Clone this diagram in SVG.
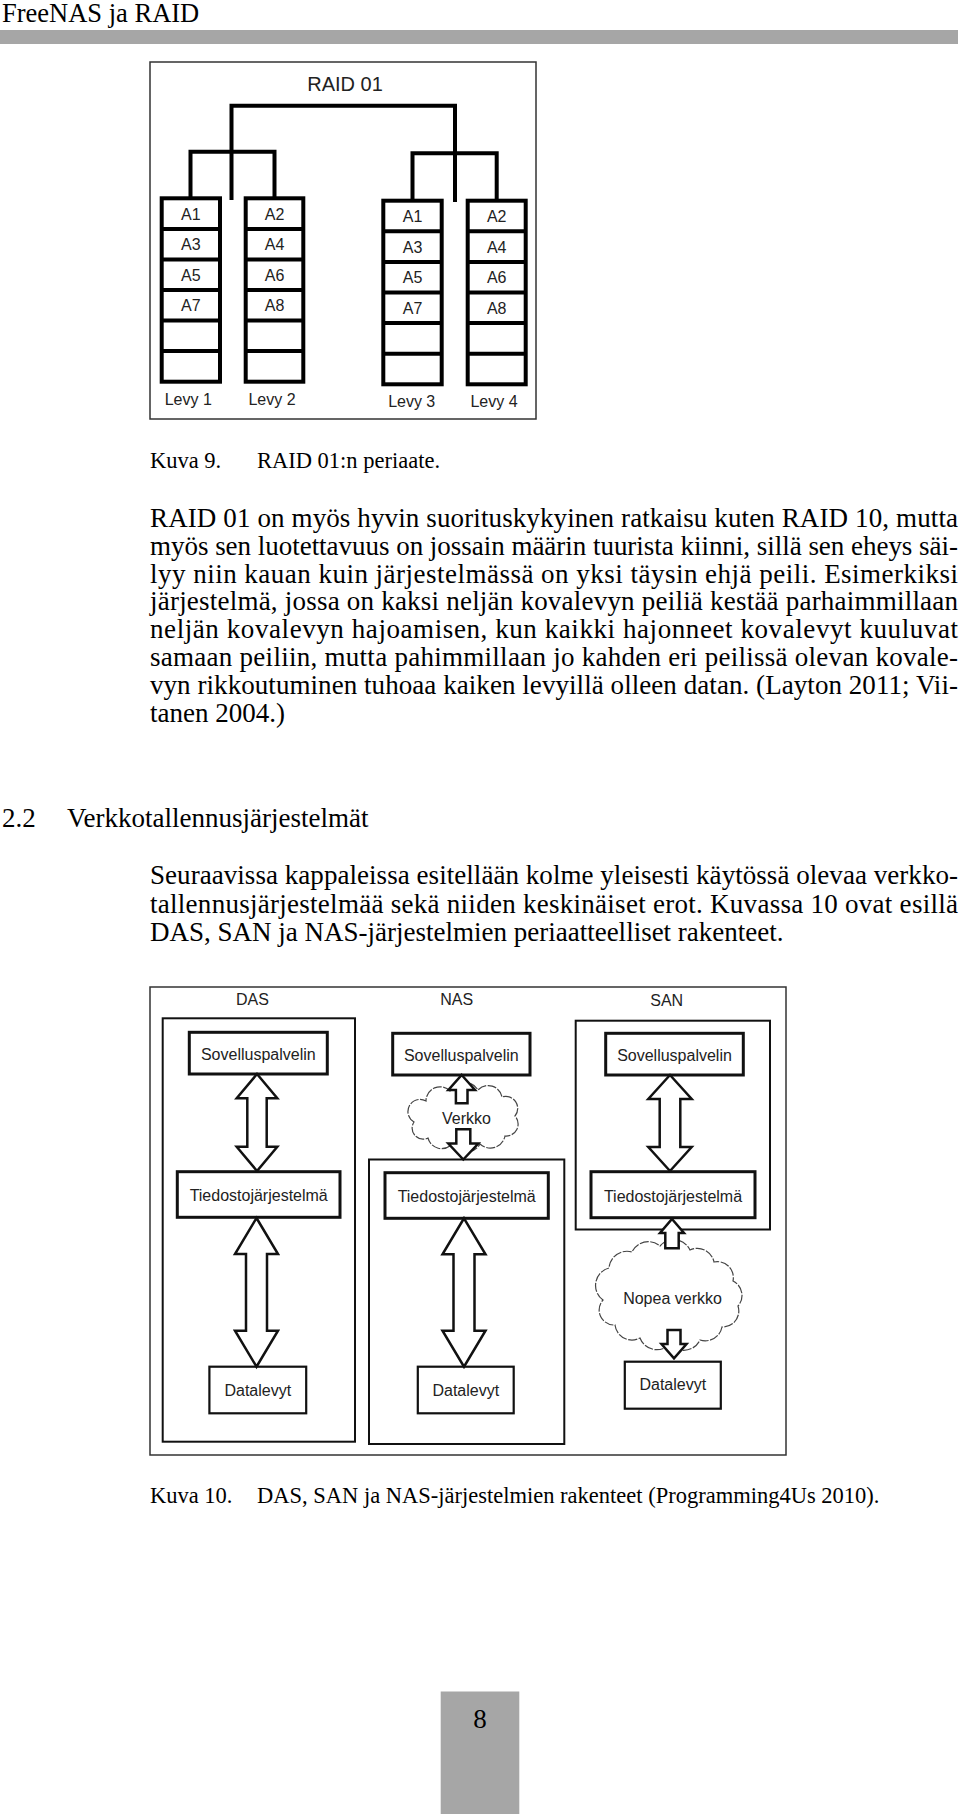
<svg xmlns="http://www.w3.org/2000/svg" width="960" height="1814" viewBox="0 0 960 1814">
<style>
.serif{font-family:"Liberation Serif","Times New Roman",serif;fill:#000}
.body{font-size:27px}
.cap{font-size:22.5px}
.sans{font-family:"Liberation Sans",Arial,sans-serif;fill:#222}
.lbl{font-size:16px}
.cell{font-size:16px}
.frame{fill:none;stroke:#333;stroke-width:1.5}
.inner{fill:none;stroke:#111;stroke-width:2}
.box{fill:#fff;stroke:#111;stroke-width:3}
.dbox{fill:#fff;stroke:#111;stroke-width:2.2}
.arrow{fill:#fff;stroke:#111;stroke-width:2.5;stroke-linejoin:miter}
.cloud{fill:#fff;stroke:#444;stroke-width:1.2;stroke-dasharray:9 1.5}
.tree{fill:none;stroke:#000;stroke-width:4;stroke-linecap:square}
.disk{fill:#fff;stroke:#000;stroke-width:4}
.div{stroke:#000;stroke-width:4}
</style>

<!-- page header -->
<g id="header">
<text class="serif" x="2" y="22" font-size="26.5">FreeNAS ja RAID</text>
<rect x="0" y="30" width="958" height="14" fill="#a6a6a6"/>
</g>

<!-- Figure 9: RAID 01 -->
<g id="raid01-figure">
<rect class="frame" x="150" y="62" width="386" height="357"/>
<text class="sans" x="345" y="91" font-size="20" text-anchor="middle">RAID 01</text>
</g>

<g id="connectors">
<polyline class="tree" points="231.5,198 231.5,105.7 455,105.7 455,200"/>
<polyline class="tree" points="190.5,198 190.5,151.7 274.5,151.7 274.5,198"/>
<polyline class="tree" points="412.5,200 412.5,153.3 496.7,153.3 496.7,200"/>
</g>

<g id="disk1">
<rect class="disk" x="161.7" y="198.3" width="58.3" height="183.4"/>
<line class="div" x1="161.7" x2="220" y1="228.9" y2="228.9"/>
<line class="div" x1="161.7" x2="220" y1="259.4" y2="259.4"/>
<line class="div" x1="161.7" x2="220" y1="290" y2="290"/>
<line class="div" x1="161.7" x2="220" y1="320.6" y2="320.6"/>
<line class="div" x1="161.7" x2="220" y1="351.1" y2="351.1"/>
<text class="sans cell" x="190.8" y="219.5" text-anchor="middle">A1</text>
<text class="sans cell" x="190.8" y="250" text-anchor="middle">A3</text>
<text class="sans cell" x="190.8" y="280.6" text-anchor="middle">A5</text>
<text class="sans cell" x="190.8" y="311.2" text-anchor="middle">A7</text>
<text class="sans lbl" x="188.3" y="405" text-anchor="middle">Levy 1</text>
</g>

<g id="disk2">
<rect class="disk" x="245.7" y="198.3" width="57.6" height="183.4"/>
<line class="div" x1="245.7" x2="303.3" y1="228.9" y2="228.9"/>
<line class="div" x1="245.7" x2="303.3" y1="259.4" y2="259.4"/>
<line class="div" x1="245.7" x2="303.3" y1="290" y2="290"/>
<line class="div" x1="245.7" x2="303.3" y1="320.6" y2="320.6"/>
<line class="div" x1="245.7" x2="303.3" y1="351.1" y2="351.1"/>
<text class="sans cell" x="274.5" y="219.5" text-anchor="middle">A2</text>
<text class="sans cell" x="274.5" y="250" text-anchor="middle">A4</text>
<text class="sans cell" x="274.5" y="280.6" text-anchor="middle">A6</text>
<text class="sans cell" x="274.5" y="311.2" text-anchor="middle">A8</text>
<text class="sans lbl" x="272" y="405" text-anchor="middle">Levy 2</text>
</g>

<g id="disk3">
<rect class="disk" x="383.3" y="200.7" width="58.4" height="183.6"/>
<line class="div" x1="383.3" x2="441.7" y1="231.3" y2="231.3"/>
<line class="div" x1="383.3" x2="441.7" y1="261.9" y2="261.9"/>
<line class="div" x1="383.3" x2="441.7" y1="292.5" y2="292.5"/>
<line class="div" x1="383.3" x2="441.7" y1="323.1" y2="323.1"/>
<line class="div" x1="383.3" x2="441.7" y1="353.7" y2="353.7"/>
<text class="sans cell" x="412.5" y="222" text-anchor="middle">A1</text>
<text class="sans cell" x="412.5" y="252.6" text-anchor="middle">A3</text>
<text class="sans cell" x="412.5" y="283.2" text-anchor="middle">A5</text>
<text class="sans cell" x="412.5" y="313.8" text-anchor="middle">A7</text>
<text class="sans lbl" x="411.7" y="406.7" text-anchor="middle">Levy 3</text>
</g>

<g id="disk4">
<rect class="disk" x="467.7" y="200.7" width="58" height="183.6"/>
<line class="div" x1="467.7" x2="525.7" y1="231.3" y2="231.3"/>
<line class="div" x1="467.7" x2="525.7" y1="261.9" y2="261.9"/>
<line class="div" x1="467.7" x2="525.7" y1="292.5" y2="292.5"/>
<line class="div" x1="467.7" x2="525.7" y1="323.1" y2="323.1"/>
<line class="div" x1="467.7" x2="525.7" y1="353.7" y2="353.7"/>
<text class="sans cell" x="496.7" y="222" text-anchor="middle">A2</text>
<text class="sans cell" x="496.7" y="252.6" text-anchor="middle">A4</text>
<text class="sans cell" x="496.7" y="283.2" text-anchor="middle">A6</text>
<text class="sans cell" x="496.7" y="313.8" text-anchor="middle">A8</text>
<text class="sans lbl" x="494" y="406.7" text-anchor="middle">Levy 4</text>
</g>

<g id="caption9" class="serif cap">
<text x="150" y="468">Kuva 9.</text>
<text x="257" y="468">RAID 01:n periaate.</text>
</g>

<g id="paragraph1" class="serif body">
<text x="150" y="527" textLength="808" lengthAdjust="spacing">RAID 01 on myös hyvin suorituskykyinen ratkaisu kuten RAID 10, mutta</text>
<text x="150" y="554.8" textLength="808" lengthAdjust="spacing">myös sen luotettavuus on jossain määrin tuurista kiinni, sillä sen eheys säi-</text>
<text x="150" y="582.6" textLength="808" lengthAdjust="spacing">lyy niin kauan kuin järjestelmässä on yksi täysin ehjä peili. Esimerkiksi</text>
<text x="150" y="610.4" textLength="808" lengthAdjust="spacing">järjestelmä, jossa on kaksi neljän kovalevyn peiliä kestää parhaimmillaan</text>
<text x="150" y="638.2" textLength="808" lengthAdjust="spacing">neljän kovalevyn hajoamisen, kun kaikki hajonneet kovalevyt kuuluvat</text>
<text x="150" y="666" textLength="808" lengthAdjust="spacing">samaan peiliin, mutta pahimmillaan jo kahden eri peilissä olevan kovale-</text>
<text x="150" y="693.8" textLength="808" lengthAdjust="spacing">vyn rikkoutuminen tuhoaa kaiken levyillä olleen datan. (Layton 2011; Vii-</text>
<text x="150" y="721.6">tanen 2004.)</text>
</g>

<g id="heading" class="serif body">
<text x="2" y="827">2.2</text>
<text x="67" y="827">Verkkotallennusjärjestelmät</text>
</g>

<g id="paragraph2" class="serif body">
<text x="150" y="884" textLength="808" lengthAdjust="spacing">Seuraavissa kappaleissa esitellään kolme yleisesti käytössä olevaa verkko-</text>
<text x="150" y="912.5" textLength="808" lengthAdjust="spacing">tallennusjärjestelmää sekä niiden keskinäiset erot. Kuvassa 10 ovat esillä</text>
<text x="150" y="941">DAS, SAN ja NAS-järjestelmien periaatteelliset rakenteet.</text>
</g>

<!-- Figure 10 -->
<g id="storage-figure">
<rect class="frame" x="150" y="987" width="636" height="468"/>
</g>

<g id="das">
<text class="sans lbl" x="252.5" y="1005" text-anchor="middle">DAS</text>
<rect class="inner" x="162.7" y="1018.3" width="192.3" height="423.4"/>
<rect class="box" x="189.3" y="1032.3" width="138" height="41.7"/>
<text class="sans lbl" x="258.3" y="1059.5" text-anchor="middle">Sovelluspalvelin</text>
<rect class="box" x="177.3" y="1171.7" width="162.7" height="45.6"/>
<text class="sans lbl" x="258.7" y="1201" text-anchor="middle">Tiedostojärjestelmä</text>
<rect class="dbox" x="209.4" y="1366.7" width="96.8" height="46.6"/>
<text class="sans lbl" x="257.8" y="1395.5" text-anchor="middle">Datalevyt</text>
</g>

<g id="nas">
<text class="sans lbl" x="456.7" y="1005" text-anchor="middle">NAS</text>
<rect class="box" x="392.7" y="1033.3" width="137.3" height="41.7"/>
<text class="sans lbl" x="461.3" y="1060.5" text-anchor="middle">Sovelluspalvelin</text>
<path class="cloud" d="M414,1122 A12,12 0 0 1 426,1101 A14,14 0 0 1 450,1091 A16,16 0 0 1 478,1090 A14,14 0 0 1 502,1097 A12,12 0 0 1 515,1116 A12,12 0 0 1 505,1136 A15,15 0 0 1 480,1144 A16,16 0 0 1 452,1144 A14,14 0 0 1 428,1138 A11,11 0 0 1 414,1122 Z"/>
<text class="sans lbl" x="466.5" y="1124" text-anchor="middle">Verkko</text>
<rect class="inner" x="369" y="1159.5" width="195.3" height="284.5"/>
<rect class="box" x="385" y="1172.7" width="163.3" height="45.6"/>
<text class="sans lbl" x="466.7" y="1202" text-anchor="middle">Tiedostojärjestelmä</text>
<rect class="dbox" x="417.8" y="1366.7" width="95.9" height="46.6"/>
<text class="sans lbl" x="465.8" y="1395.5" text-anchor="middle">Datalevyt</text>
</g>

<g id="san">
<text class="sans lbl" x="666.7" y="1006" text-anchor="middle">SAN</text>
<rect class="inner" x="575.7" y="1020.7" width="194.3" height="208.8"/>
<rect class="box" x="605.7" y="1033.3" width="137.6" height="41.7"/>
<text class="sans lbl" x="674.5" y="1060.5" text-anchor="middle">Sovelluspalvelin</text>
<rect class="box" x="591" y="1171.7" width="164" height="46"/>
<text class="sans lbl" x="673" y="1201.5" text-anchor="middle">Tiedostojärjestelmä</text>
<path class="cloud" d="M603,1300 A18,18 0 0 1 609,1268 A18,18 0 0 1 632,1252 A18,18 0 0 1 660,1246 A18,18 0 0 1 690,1250 A17,17 0 0 1 714,1262 A16,16 0 0 1 733,1281 A16,16 0 0 1 738,1306 A16,16 0 0 1 722,1327 A17,17 0 0 1 700,1340 A18,18 0 0 1 670,1344 A18,18 0 0 1 640,1338 A17,17 0 0 1 615,1325 A15,15 0 0 1 603,1300 Z"/>
<text class="sans lbl" x="672.5" y="1304" text-anchor="middle">Nopea verkko</text>
<rect class="dbox" x="624.8" y="1361.7" width="96" height="47"/>
<text class="sans lbl" x="672.8" y="1389.5" text-anchor="middle">Datalevyt</text>
</g>

<g id="arrows">
<path class="arrow" d="M257,1074 L277.3,1098.3 L266.7,1098.3 L266.7,1146.7 L277.3,1146.7 L257,1171 L236.7,1146.7 L247.3,1146.7 L247.3,1098.3 L236.7,1098.3 Z"/>
<path class="arrow" d="M256.5,1218 L278,1254 L267,1254 L267,1330.7 L278,1330.7 L256.5,1366.7 L235,1330.7 L246,1330.7 L246,1254 L235,1254 Z"/>
<path class="arrow" d="M461.7,1075 L475,1090 L467.5,1090 L467.5,1103.3 L455.9,1103.3 L455.9,1090 L448.4,1090 Z"/>
<path class="arrow" d="M456.3,1129.3 L470.3,1129.3 L470.3,1143.5 L478.3,1143.5 L463.3,1159.5 L448.3,1143.5 L456.3,1143.5 Z"/>
<path class="arrow" d="M464,1218.3 L485.5,1254.3 L474.5,1254.3 L474.5,1330.7 L485.5,1330.7 L464,1366.7 L442.5,1330.7 L453.5,1330.7 L453.5,1254.3 L442.5,1254.3 Z"/>
<path class="arrow" d="M670,1075 L691.7,1099 L680.3,1099 L680.3,1147 L691.7,1147 L670,1171 L648.3,1147 L659.7,1147 L659.7,1099 L648.3,1099 Z"/>
<path class="arrow" d="M672,1219 L684,1233 L678.7,1233 L678.7,1248.3 L665.3,1248.3 L665.3,1233 L660,1233 Z"/>
<path class="arrow" d="M667.5,1330 L680.5,1330 L680.5,1344 L686.5,1344 L674,1358.3 L661.5,1344 L667.5,1344 Z"/>
</g>

<g id="caption10" class="serif cap">
<text x="150" y="1503">Kuva 10.</text>
<text x="257" y="1503">DAS, SAN ja NAS-järjestelmien rakenteet (Programming4Us 2010).</text>
</g>

<g id="page-number">
<rect x="440.7" y="1691.5" width="78.6" height="122.5" fill="#a6a6a6"/>
<text class="serif" x="480" y="1728" font-size="27" text-anchor="middle">8</text>
</g>
</svg>
